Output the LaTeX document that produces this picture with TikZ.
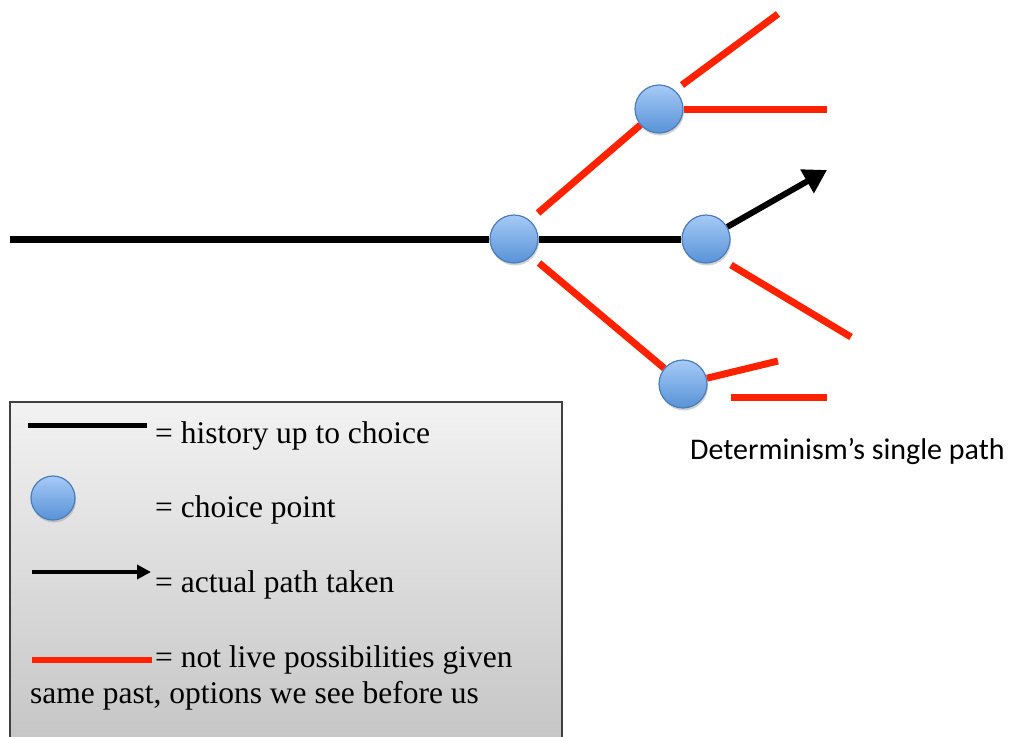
\documentclass[tikz,border=0pt]{standalone}
\usepackage{fontspec}
\setmainfont{Liberation Serif}
\newfontfamily\captionfont{Carlito}
\usetikzlibrary{arrows.meta,shadows}
\definecolor{liveRed}{RGB}{255,34,0}
\definecolor{ballTop}{RGB}{166,202,246}
\definecolor{ballBot}{RGB}{88,146,215}
\definecolor{ballRim}{RGB}{74,126,187}
\tikzset{
  choice/.style={circle, minimum size=48pt, inner sep=0pt, draw=ballRim, line width=1.2pt,
    top color=ballTop, bottom color=ballBot,
    drop shadow={opacity=0.35, shadow xshift=1pt, shadow yshift=-2.5pt}},
  history/.style={line width=7pt},
  notlive/.style={draw=liveRed, line width=7pt},
  taken/.style={line width=6pt, -{Triangle[length=23pt,width=26pt]}},
  legtext/.style={anchor=base west, inner sep=0pt, font=\fontsize{31.5}{36}\selectfont},
}
\begin{document}
\begin{tikzpicture}[x=1pt,y=-1pt]
\useasboundingbox (0,0) rectangle (1016,736);
% the choice points
\node[choice] (A) at (514,239) {};
\node[choice] (B) at (659,109) {};
\node[choice] (C) at (706,239) {};
\node[choice] (D) at (683,384) {};
% free ends
\coordinate (start) at (10,239);
\coordinate (tip) at (827,170);
\coordinate (a1) at (538,213);
\coordinate (a2) at (539,263);
\coordinate (b1) at (827,109);
\coordinate (b2) at (682,85);
\coordinate (b3) at (778,14);
\coordinate (c1) at (731,265);
\coordinate (c2) at (851,337);
\coordinate (d1) at (778,361);
\coordinate (d2) at (731,397);
\coordinate (d3) at (827,397);
% history and the path taken
\draw[history] (start) -- (A);
\draw[history] (A) -- (C);
\draw[taken] (C) -- (tip);
% not live possibilities
\draw[notlive] (a1) -- (B);
\draw[notlive] (B) -- (b1);
\draw[notlive] (b2) -- (b3);
\draw[notlive] (c1) -- (c2);
\draw[notlive] (a2) -- (D);
\draw[notlive] (D) -- (d1);
\draw[notlive] (d2) -- (d3);
\node[anchor=base west, inner sep=0pt, font=\captionfont\fontsize{30}{36}\selectfont] (cap) at (690,459) {Determinism’s single path};
% legend
\begin{scope}
  \clip (0,0) rectangle (1016,736);
  \draw[draw=black!75, line width=1.2pt, top color=black!5, bottom color=black!24] (10,402) rectangle (562,770);
\end{scope}
\coordinate (h1) at (28,425);
\coordinate (h2) at (147,425);
\draw[line width=5pt] (h1) -- (h2);
\node[legtext] (t1) at (155,443) {= history up to choice};
\node[choice, minimum size=44pt] (key) at (53,498) {};
\node[legtext] (t2) at (155,517) {= choice point};
\coordinate (k1) at (32,572);
\coordinate (k2) at (151,572);
\draw[line width=4.5pt, -{Triangle[length=14pt,width=14pt]}] (k1) -- (k2);
\node[legtext] (t3) at (155,592) {= actual path taken};
\coordinate (r1) at (32,660);
\coordinate (r2) at (152,660);
\draw[notlive, line width=6pt] (r1) -- (r2);
\node[legtext] (t4) at (155,667) {= not live possibilities given};
\node[legtext] (t5) at (30,703) {same past, options we see before us};
\end{tikzpicture}
\end{document}
